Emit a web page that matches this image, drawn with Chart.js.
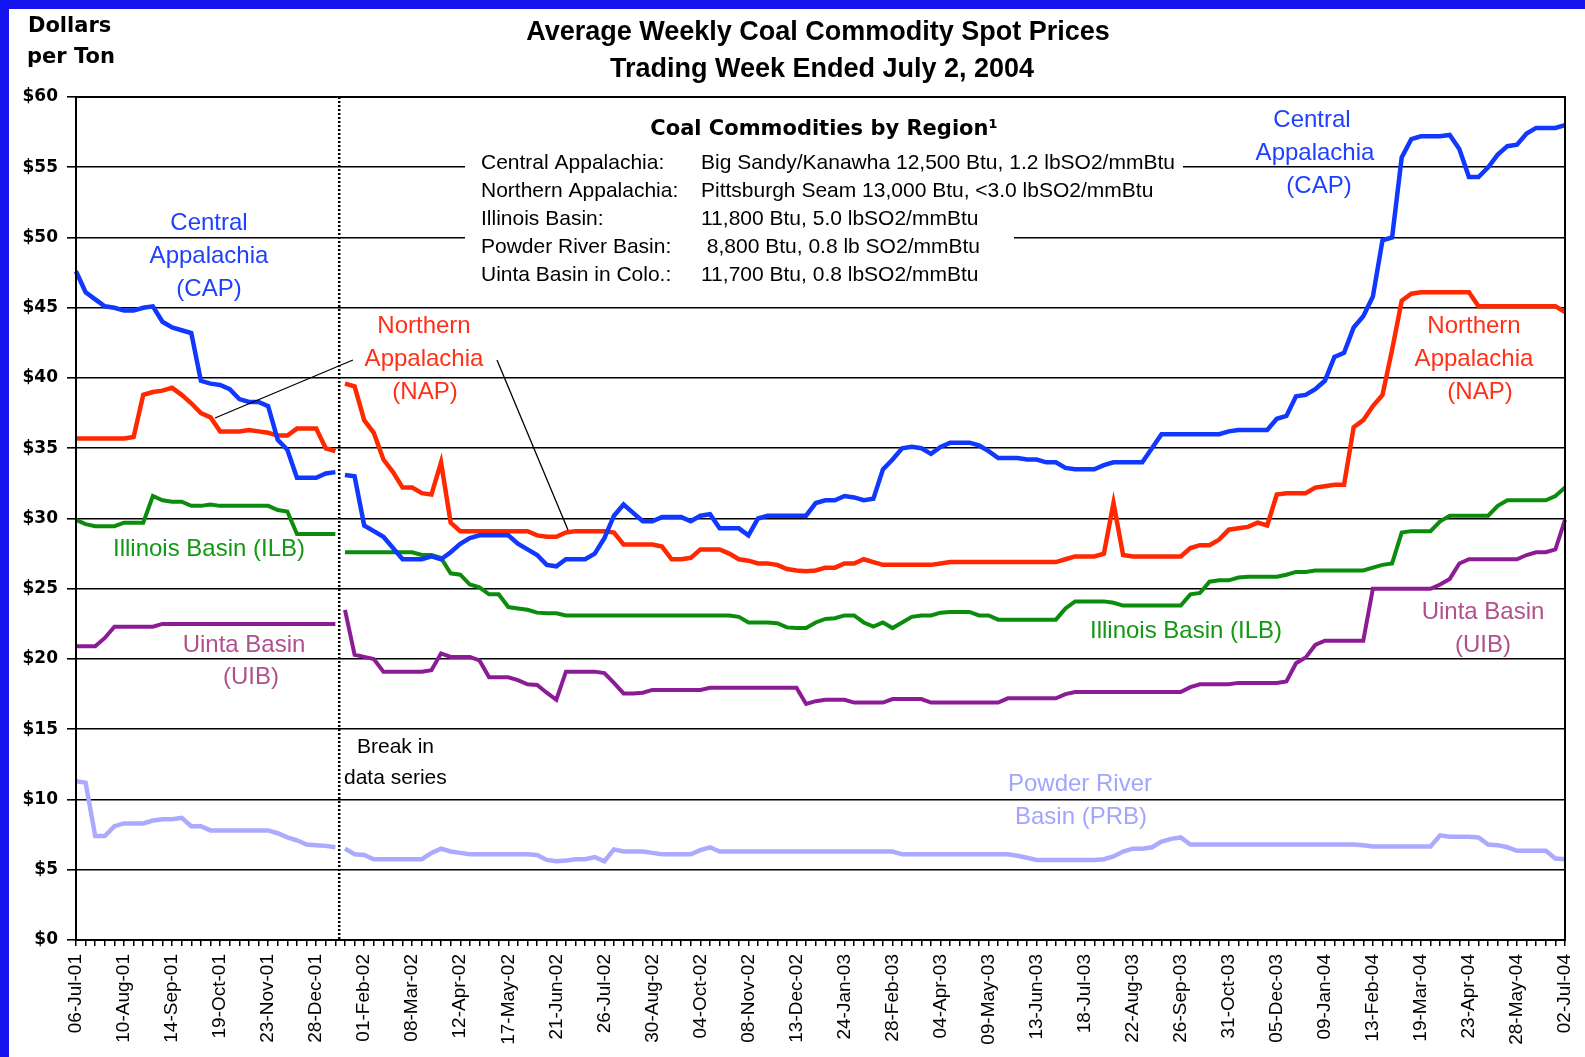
<!DOCTYPE html>
<html>
<head>
<meta charset="utf-8">
<title>Average Weekly Coal Commodity Spot Prices</title>
<script src="https://cdn.jsdelivr.net/npm/chart.js@4.4.1/dist/chart.umd.min.js"></script>
<style>
  html, body { margin: 0; padding: 0; background: #fff; overflow: hidden; }
  canvas { display: block; }
</style>
</head>
<body>
<canvas id="coalChart" width="1585" height="1057"></canvas>
<script>
// Tick labels, one every 5 trading weeks
var tickLabels = ["06-Jul-01", "10-Aug-01", "14-Sep-01", "19-Oct-01", "23-Nov-01", "28-Dec-01",
  "01-Feb-02", "08-Mar-02", "12-Apr-02", "17-May-02", "21-Jun-02", "26-Jul-02", "30-Aug-02",
  "04-Oct-02", "08-Nov-02", "13-Dec-02", "24-Jan-03", "28-Feb-03", "04-Apr-03", "09-May-03",
  "13-Jun-03", "18-Jul-03", "22-Aug-03", "26-Sep-03", "31-Oct-03", "05-Dec-03", "09-Jan-04",
  "13-Feb-04", "19-Mar-04", "23-Apr-04", "28-May-04", "02-Jul-04"];

// Weekly spot prices, $ per ton
var capPrices = [
  47.6, 46.1, 45.6, 45.1, 45.0, 44.8, 44.8, 45.0, 45.1, 44.0,
  43.6, 43.4, 43.2, 39.8, 39.6, 39.5, 39.2, 38.5, 38.3, 38.3,
  38.0, 35.6, 34.9, 32.9, 32.9, 32.9, 33.2, 33.3, 33.1, 33.0,
  29.5, 29.1, 28.7, 27.9, 27.1, 27.1, 27.1, 27.3, 27.1, 27.6,
  28.2, 28.6, 28.8, 28.8, 28.8, 28.8, 28.2, 27.8, 27.4, 26.7,
  26.6, 27.1, 27.1, 27.1, 27.5, 28.6, 30.2, 31.0, 30.4, 29.8,
  29.8, 30.1, 30.1, 30.1, 29.8, 30.2, 30.3, 29.3, 29.3, 29.3,
  28.8, 30.0, 30.2, 30.2, 30.2, 30.2, 30.2, 31.1, 31.3, 31.3,
  31.6, 31.5, 31.3, 31.4, 33.5, 34.2, 35.0, 35.1, 35.0, 34.6,
  35.1, 35.4, 35.4, 35.4, 35.2, 34.8, 34.3, 34.3, 34.3, 34.2,
  34.2, 34.0, 34.0, 33.6, 33.5, 33.5, 33.5, 33.8, 34.0, 34.0,
  34.0, 34.0, 35.0, 36.0, 36.0, 36.0, 36.0, 36.0, 36.0, 36.0,
  36.2, 36.3, 36.3, 36.3, 36.3, 37.1, 37.3, 38.7, 38.8, 39.2,
  39.8, 41.5, 41.8, 43.6, 44.4, 45.8, 49.8, 50.0, 55.7, 57.0,
  57.2, 57.2, 57.2, 57.3, 56.3, 54.3, 54.3, 55.0, 55.9, 56.5,
  56.6, 57.4, 57.8, 57.8, 57.8, 58.0
];
var napPrices = [
  35.7, 35.7, 35.7, 35.7, 35.7, 35.7, 35.8, 38.8, 39.0, 39.1,
  39.3, 38.8, 38.2, 37.5, 37.2, 36.2, 36.2, 36.2, 36.3, 36.2,
  36.1, 35.9, 35.9, 36.4, 36.4, 36.4, 35.0, 34.8, 39.6, 39.4,
  37.0, 36.1, 34.2, 33.3, 32.2, 32.2, 31.8, 31.7, 34.0, 29.7,
  29.1, 29.1, 29.1, 29.1, 29.1, 29.1, 29.1, 29.1, 28.8, 28.7,
  28.7, 29.0, 29.1, 29.1, 29.1, 29.1, 29.0, 28.15, 28.15, 28.15,
  28.15, 28.0, 27.1, 27.1, 27.2, 27.8, 27.8, 27.8, 27.5, 27.1,
  27.0, 26.8, 26.8, 26.7, 26.4, 26.3, 26.25, 26.3, 26.5, 26.5,
  26.8, 26.8, 27.1, 26.9, 26.7, 26.7, 26.7, 26.7, 26.7, 26.7,
  26.8, 26.9, 26.9, 26.9, 26.9, 26.9, 26.9, 26.9, 26.9, 26.9,
  26.9, 26.9, 26.9, 27.1, 27.3, 27.3, 27.3, 27.5, 31.1, 27.4,
  27.3, 27.3, 27.3, 27.3, 27.3, 27.3, 27.9, 28.1, 28.1, 28.5,
  29.2, 29.3, 29.4, 29.7, 29.5, 31.7, 31.8, 31.8, 31.8, 32.2,
  32.3, 32.4, 32.4, 36.5, 37.0, 38.0, 38.8, 42.0, 45.5, 46.0,
  46.1, 46.1, 46.1, 46.1, 46.1, 46.1, 45.1, 45.1, 45.1, 45.1,
  45.1, 45.1, 45.1, 45.1, 45.1, 44.7
];
var ilbPrices = [
  29.9, 29.6, 29.45, 29.45, 29.45, 29.7, 29.7, 29.7, 31.6, 31.3,
  31.2, 31.2, 30.9, 30.9, 31.0, 30.9, 30.9, 30.9, 30.9, 30.9,
  30.9, 30.6, 30.5, 28.9, 28.9, 28.9, 28.9, 28.9, 27.6, 27.6,
  27.6, 27.6, 27.6, 27.6, 27.6, 27.6, 27.4, 27.4, 27.2, 26.1,
  26.0, 25.3, 25.1, 24.6, 24.6, 23.7, 23.6, 23.5, 23.3, 23.25,
  23.25, 23.1, 23.1, 23.1, 23.1, 23.1, 23.1, 23.1, 23.1, 23.1,
  23.1, 23.1, 23.1, 23.1, 23.1, 23.1, 23.1, 23.1, 23.1, 23.0,
  22.6, 22.6, 22.6, 22.55, 22.25, 22.2, 22.2, 22.6, 22.85, 22.9,
  23.1, 23.1, 22.6, 22.3, 22.6, 22.2, 22.6, 23.0, 23.1, 23.1,
  23.3, 23.35, 23.35, 23.35, 23.1, 23.1, 22.8, 22.8, 22.8, 22.8,
  22.8, 22.8, 22.8, 23.6, 24.1, 24.1, 24.1, 24.1, 24.0, 23.8,
  23.8, 23.8, 23.8, 23.8, 23.8, 23.8, 24.6, 24.7, 25.5, 25.6,
  25.6, 25.8, 25.85, 25.85, 25.85, 25.85, 26.0, 26.2, 26.2, 26.3,
  26.3, 26.3, 26.3, 26.3, 26.3, 26.5, 26.7, 26.8, 29.0, 29.1,
  29.1, 29.1, 29.8, 30.2, 30.2, 30.2, 30.2, 30.2, 30.9, 31.3,
  31.3, 31.3, 31.3, 31.3, 31.6, 32.2
];
var uibPrices = [
  20.9, 20.9, 20.9, 21.5, 22.3, 22.3, 22.3, 22.3, 22.3, 22.5,
  22.5, 22.5, 22.5, 22.5, 22.5, 22.5, 22.5, 22.5, 22.5, 22.5,
  22.5, 22.5, 22.5, 22.5, 22.5, 22.5, 22.5, 22.5, 23.5, 20.3,
  20.15, 20.0, 19.1, 19.1, 19.1, 19.1, 19.1, 19.2, 20.4, 20.15,
  20.15, 20.15, 19.9, 18.7, 18.7, 18.7, 18.5, 18.2, 18.15, 17.6,
  17.1, 19.1, 19.1, 19.1, 19.1, 19.0, 18.3, 17.55, 17.55, 17.6,
  17.8, 17.8, 17.8, 17.8, 17.8, 17.8, 17.95, 17.95, 17.95, 17.95,
  17.95, 17.95, 17.95, 17.95, 17.95, 17.95, 16.8, 17.0, 17.1, 17.1,
  17.1, 16.9, 16.9, 16.9, 16.9, 17.15, 17.15, 17.15, 17.15, 16.9,
  16.9, 16.9, 16.9, 16.9, 16.9, 16.9, 16.9, 17.2, 17.2, 17.2,
  17.2, 17.2, 17.2, 17.5, 17.65, 17.65, 17.65, 17.65, 17.65, 17.65,
  17.65, 17.65, 17.65, 17.65, 17.65, 17.65, 18.0, 18.2, 18.2, 18.2,
  18.2, 18.3, 18.3, 18.3, 18.3, 18.3, 18.4, 19.7, 20.1, 21.0,
  21.3, 21.3, 21.3, 21.3, 21.3, 25.0, 25.0, 25.0, 25.0, 25.0,
  25.0, 25.0, 25.3, 25.7, 26.8, 27.1, 27.1, 27.1, 27.1, 27.1,
  27.1, 27.4, 27.6, 27.6, 27.8, 29.9
];
var prbPrices = [
  11.3, 11.2, 7.4, 7.4, 8.1, 8.3, 8.3, 8.3, 8.5, 8.6,
  8.6, 8.7, 8.1, 8.1, 7.8, 7.8, 7.8, 7.8, 7.8, 7.8,
  7.8, 7.6, 7.3, 7.1, 6.8, 6.75, 6.7, 6.6, 6.5, 6.1,
  6.05, 5.75, 5.75, 5.75, 5.75, 5.75, 5.75, 6.2, 6.5, 6.3,
  6.2, 6.1, 6.1, 6.1, 6.1, 6.1, 6.1, 6.1, 6.05, 5.7,
  5.6, 5.65, 5.75, 5.75, 5.9, 5.6, 6.45, 6.3, 6.3, 6.3,
  6.2, 6.1, 6.1, 6.1, 6.1, 6.4, 6.6, 6.3, 6.3, 6.3,
  6.3, 6.3, 6.3, 6.3, 6.3, 6.3, 6.3, 6.3, 6.3, 6.3,
  6.3, 6.3, 6.3, 6.3, 6.3, 6.3, 6.1, 6.1, 6.1, 6.1,
  6.1, 6.1, 6.1, 6.1, 6.1, 6.1, 6.1, 6.1, 6.0, 5.85,
  5.7, 5.7, 5.7, 5.7, 5.7, 5.7, 5.7, 5.75, 5.95, 6.3,
  6.5, 6.5, 6.6, 7.0, 7.2, 7.3, 6.8, 6.8, 6.8, 6.8,
  6.8, 6.8, 6.8, 6.8, 6.8, 6.8, 6.8, 6.8, 6.8, 6.8,
  6.8, 6.8, 6.8, 6.8, 6.75, 6.65, 6.65, 6.65, 6.65, 6.65,
  6.65, 6.65, 7.45, 7.35, 7.35, 7.35, 7.3, 6.8, 6.75, 6.6,
  6.35, 6.35, 6.35, 6.35, 5.8, 5.75
];

// last week before the break in the data series
var breakIndex = 27;

var SANS = "'Liberation Sans', Arial, sans-serif";
var WIDE = "'DejaVu Sans', Verdana, sans-serif";

var weekLabels = [];
for (var i = 0; i < capPrices.length; i++) {
    weekLabels.push(i % 5 === 0 ? tickLabels[i / 5] : '');
}

function series(label, data, color, width) {
    return {
        label: label,
        data: data,
        borderColor: color,
        backgroundColor: color,
        borderWidth: width,
        pointRadius: 0,
        tension: 0,
        fill: false,
        segment: {
            // no line across the break in the data series
            borderColor: function(ctx) {
                return ctx.p0DataIndex === breakIndex ? 'rgba(0,0,0,0)' : undefined;
            }
        }
    };
}

function text(ctx, str, x, y, font, color, align) {
    ctx.font = font;
    ctx.fillStyle = color;
    ctx.textAlign = align || 'center';
    ctx.textBaseline = 'middle';
    ctx.fillText(str, x, y);
}

function lines(ctx, rows, x, y, step, font, color) {
    for (var k = 0; k < rows.length; k++) {
        text(ctx, rows[k][0], x + (rows[k][1] || 0), y + k * step, font, color);
    }
}

var decorations = {
    id: 'decorations',
    beforeDraw: function(chart) {
        var ctx = chart.ctx;
        ctx.save();
        ctx.fillStyle = '#ffffff';
        ctx.fillRect(0, 0, chart.width, chart.height);
        // blue slide frame
        ctx.fillStyle = '#1414f0';
        ctx.fillRect(0, 0, 9, chart.height);
        ctx.fillRect(0, 0, chart.width, 9);
        ctx.restore();
    },
    beforeDatasetsDraw: function(chart) {
        var ctx = chart.ctx;
        ctx.save();
        // white box behind the region key
        ctx.fillStyle = '#ffffff';
        ctx.fillRect(465, 108, 718, 96);
        ctx.fillRect(465, 200, 549, 92);
        ctx.restore();
    },
    afterDraw: function(chart) {
        var ctx = chart.ctx;
        var area = chart.chartArea;
        var xs = chart.scales.x;
        ctx.save();

        // plot border
        ctx.strokeStyle = '#000';
        ctx.lineWidth = 2;
        ctx.strokeRect(area.left, area.top, area.right - area.left, area.bottom - area.top);

        // break in data series
        var bx = xs.getPixelForValue(breakIndex + 0.4);
        ctx.lineWidth = 2.5;
        ctx.setLineDash([2, 2]);
        ctx.beginPath();
        ctx.moveTo(bx, area.top);
        ctx.lineTo(bx, area.bottom);
        ctx.stroke();
        ctx.setLineDash([]);

        // leader lines from the NAP labels
        ctx.lineWidth = 1.3;
        ctx.beginPath();
        ctx.moveTo(215, 418);
        ctx.lineTo(353, 360);
        ctx.moveTo(497, 360);
        ctx.lineTo(568, 530);
        ctx.stroke();

        // titles
        text(ctx, 'Dollars', 28, 27, 'bold 21px ' + WIDE, '#000', 'left');
        text(ctx, 'per Ton', 27, 58, 'bold 21px ' + WIDE, '#000', 'left');
        text(ctx, 'Average Weekly Coal Commodity Spot Prices', 818, 33, 'bold 27px ' + SANS, '#000');
        text(ctx, 'Trading Week Ended July 2, 2004', 822, 70, 'bold 27px ' + SANS, '#000');

        // region key
        text(ctx, 'Coal Commodities by Region\u00b9', 824, 130, 'bold 21px ' + WIDE, '#000');
        var keyLeft = ['Central Appalachia:', 'Northern Appalachia:', 'Illinois Basin:',
            'Powder River Basin:', 'Uinta Basin in Colo.:'];
        var keyRight = ['Big Sandy/Kanawha 12,500 Btu, 1.2 lbSO2/mmBtu',
            'Pittsburgh Seam 13,000 Btu, <3.0 lbSO2/mmBtu', '11,800 Btu, 5.0 lbSO2/mmBtu',
            ' 8,800 Btu, 0.8 lb SO2/mmBtu', '11,700 Btu, 0.8 lbSO2/mmBtu'];
        for (var r = 0; r < keyLeft.length; r++) {
            text(ctx, keyLeft[r], 481, 163 + r * 28.1, '21px ' + SANS, '#000', 'left');
            text(ctx, keyRight[r], 701, 163 + r * 28.1, '21px ' + SANS, '#000', 'left');
        }

        // series labels
        var lab = '24px ' + SANS;
        lines(ctx, [['Central'], ['Appalachia'], ['(CAP)']], 209, 223, 33.4, lab, '#2040ff');
        lines(ctx, [['Central', -3], ['Appalachia'], ['(CAP)', 4]], 1315, 120, 33.4, lab, '#2040ff');
        lines(ctx, [['Northern'], ['Appalachia'], ['(NAP)', 1]], 424, 326, 33.4, lab, '#ff3018');
        lines(ctx, [['Northern'], ['Appalachia'], ['(NAP)', 6]], 1474, 326, 33.4, lab, '#ff3018');
        text(ctx, 'Illinois Basin (ILB)', 209, 549, lab, '#139813');
        text(ctx, 'Illinois Basin (ILB)', 1186, 631, lab, '#139813');
        lines(ctx, [['Uinta Basin'], ['(UIB)', 7]], 244, 645, 32.5, lab, '#b0508c');
        lines(ctx, [['Uinta Basin'], ['(UIB)']], 1483, 612, 33, lab, '#b0508c');
        lines(ctx, [['Powder River'], ['Basin (PRB)', 1]], 1080, 784, 33.4, lab, '#a4a4ff');

        text(ctx, 'Break in', 357, 747, '21px ' + SANS, '#000', 'left');
        text(ctx, 'data series', 344, 778, '21px ' + SANS, '#000', 'left');

        ctx.restore();
    }
};

var ctx = document.getElementById('coalChart');
var coalChart = new Chart(ctx, {
    type: 'line',
    data: {
        labels: weekLabels,
        datasets: [
            series('Central Appalachia (CAP)', capPrices, '#1038ff', 4.5),
            series('Northern Appalachia (NAP)', napPrices, '#ff2800', 4.5),
            series('Illinois Basin (ILB)', ilbPrices, '#0c8c0c', 4),
            series('Uinta Basin (UIB)', uibPrices, '#8c1c96', 4),
            series('Powder River Basin (PRB)', prbPrices, '#aaaaff', 4.5)
        ]
    },
    options: {
        responsive: false,
        animation: false,
        layout: { padding: { top: 97, right: 20, left: 0, bottom: 0 } },
        plugins: {
            legend: { display: false },
            title: { display: false },
            tooltip: { enabled: false }
        },
        scales: {
            x: {
                type: 'category',
                offset: false,
                grid: { drawOnChartArea: false, drawTicks: true, tickLength: 6, color: '#000', lineWidth: 1.5 },
                border: { display: false },
                ticks: {
                    autoSkip: false,
                    maxRotation: 90,
                    minRotation: 90,
                    padding: 8,
                    color: '#000',
                    font: { family: SANS, size: 19 },
                    callback: function(value) { return this.getLabelForValue(value); }
                },
                afterFit: function(scale) {
                    scale.height = 117;
                    // let the plot run to the right edge, the last label may overhang
                    scale.paddingLeft = 0;
                    scale.paddingRight = 0;
                }
            },
            y: {
                min: 0,
                max: 60,
                grid: { color: '#000', lineWidth: 1.6, tickLength: 9 },
                border: { display: false },
                ticks: {
                    stepSize: 5,
                    padding: 9,
                    color: '#000',
                    font: { family: WIDE, size: 17, weight: 'bold' },
                    callback: function(value) { return '$' + value; }
                },
                afterFit: function(scale) { scale.width = 76; }
            }
        }
    },
    plugins: [decorations]
});
</script>
</body>
</html>
